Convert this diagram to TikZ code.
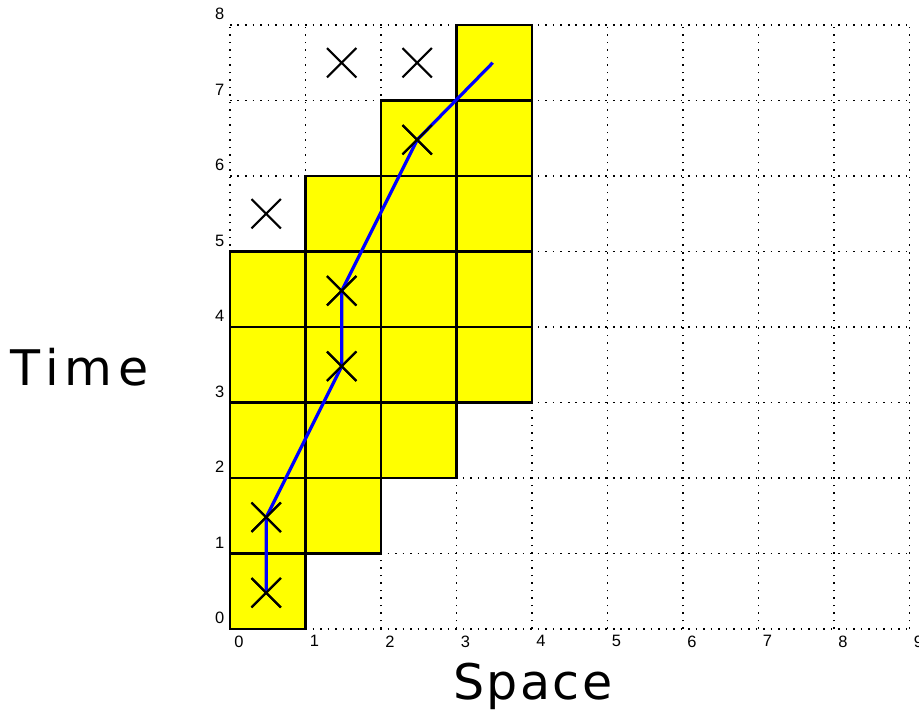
\documentclass[tikz,border=0pt]{standalone}
\usepackage{fontspec}
\setmainfont{Liberation Sans}
\newfontfamily\timefont[LetterSpace=12]{DejaVu Sans}
\newfontfamily\spacefont[LetterSpace=5]{DejaVu Sans}
\usetikzlibrary{shapes.misc}
\definecolor{cellyellow}{RGB}{255,255,0}
\definecolor{trailblue}{RGB}{0,0,255}
\tikzset{
  gridline/.style={line width=0.6pt, dash pattern=on 0.6pt off 2.23pt},
  cell/.style={fill=cellyellow, draw=black, line width=1.1pt},
  xmark/.style={cross out, draw=black, line width=0.8pt, minimum size=0.36cm, inner sep=0pt},
  trail/.style={draw=trailblue, line width=1.2pt},
  tick/.style={inner sep=0pt, font=\fontsize{6.2}{7}\selectfont},
  axlab/.style={inner sep=0pt}
}
\begin{document}
\begin{tikzpicture}[x=1cm,y=1cm]
\useasboundingbox (-3.046,-1.060) rectangle (9.126,8.331);
% grid
\foreach \i in {0,...,9} \draw[gridline] (\i,0) -- (\i,8);
\foreach \j in {0,...,8} \draw[gridline] (0,\j) -- (9,\j);
% yellow cells
\foreach \c/\r in {0/0, 0/1,1/1, 0/2,1/2,2/2, 0/3,1/3,2/3,3/3, 0/4,1/4,2/4,3/4, 1/5,2/5,3/5, 2/6,3/6, 3/7}
  \draw[cell] (\c,\r) rectangle ++(1,1);
% tick labels
\foreach \i in {0,...,9} \node[tick, anchor=north west] (xt\i) at (\i+0.05,-0.08) {\i};
\foreach \j in {0,...,8} \node[tick, anchor=south east] (yt\j) at (-0.07,\j+0.06) {\j};
% markers
\node[xmark] (m1) at (0.48,0.48) {};
\node[xmark] (m2) at (0.48,1.48) {};
\node[xmark] (m3) at (1.48,3.48) {};
\node[xmark] (m4) at (1.48,4.48) {};
\node[xmark] (m5) at (2.48,6.48) {};
\node[xmark] (m6) at (0.48,5.5) {};
\node[xmark] (m7) at (1.48,7.5) {};
\node[xmark] (m8) at (2.48,7.5) {};
\coordinate (tend) at (3.48,7.5);
% blue path
\draw[trail] (m1.center) -- (m2.center) -- (m3.center) -- (m4.center) -- (m5.center) -- (tend);
% redraw markers on top
\foreach \m in {m1,m2,m3,m4,m5}
  \draw[line width=0.8pt] (\m.north west) -- (\m.south east) (\m.north east) -- (\m.south west);
% axis labels
\node[axlab, anchor=base west, font=\fontsize{18.5}{22}\timefont] (time) at (-2.91,3.23) {Time};
\node[axlab, anchor=base, font=\fontsize{18.5}{22}\spacefont] (space) at (4.01,-0.94) {Space};
\end{tikzpicture}
\end{document}
